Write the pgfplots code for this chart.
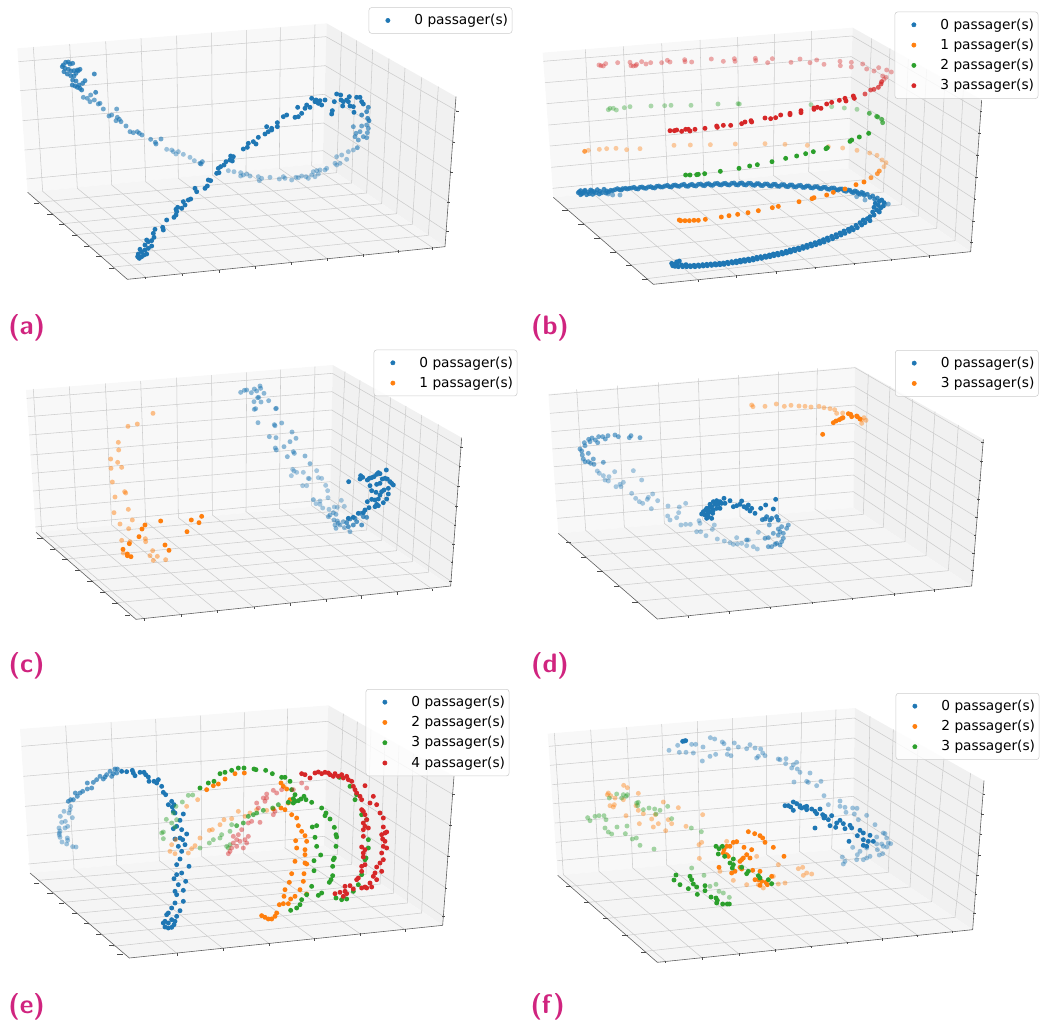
\documentclass[border=0pt]{standalone}
\usepackage{fontspec}
\setmainfont{DejaVu Sans}
\usepackage{pgfplots}
\pgfplotsset{compat=1.18}
\definecolor{cB}{HTML}{1F77B4}
\definecolor{cO}{HTML}{FF7F0E}
\definecolor{cG}{HTML}{2CA02C}
\definecolor{cR}{HTML}{D62728}
\definecolor{lab}{HTML}{D0247F}
\pgfdeclareplotmark{dot}{\pgfpathcircle{\pgfpointorigin}{\pgfplotmarksize}\pgfusepathqfill}
\pgfplotsset{
 panel/.style={scale only axis,width=390pt,height=255pt,xmin=0,xmax=1560,ymin=0,ymax=1020,
  y dir=reverse,hide axis,clip=false,anchor=north west,
  legend style={draw=black!20,fill=white,fill opacity=.8,text opacity=1,rounded corners=2pt,
   font=\fontsize{10.3}{12}\selectfont,cells={anchor=west},anchor=north east,
   inner xsep=1pt,inner ysep=3pt,row sep=1.9pt,line width=.4pt},
  legend image code/.code={\fill[##1,fill opacity=1] (13pt,0pt) circle (1.6pt);\path (0pt,0pt) (30.7pt,0pt);},
 },
 gl/.style={forget plot,no markers,line width=.4pt,color=black!20},
 ed/.style={forget plot,no markers,line width=.45pt,color=black!62},
}
\newcommand{\gl}[1]{\addplot[gl] coordinates {#1};}
\newcommand{\pts}[3]{\addplot[only marks,mark=dot,mark size=1.85pt,forget plot,color=#1,mark options={color=#1,opacity=#2}] coordinates {#3};}
\newcommand{\panes}[7]{%
 \addplot[forget plot,no markers,draw=none,fill=black!2.6] coordinates {#1 #2 #5 #4};
 \addplot[forget plot,no markers,draw=none,fill=black!5.5] coordinates {#2 #3 #6 #5};
 \addplot[forget plot,no markers,draw=none,fill=black!3.8] coordinates {#4 #5 #6 #7};}
\newcommand{\edges}[4]{\addplot[ed] coordinates {#1 #2 #3 #4};}
\newcommand{\tickl}[1]{\addplot[forget plot,only marks,mark=-,mark size=2.1pt,color=black!70,mark options={line width=.35pt}] coordinates {#1};}
\newcommand{\tickr}[1]{\addplot[forget plot,only marks,mark=-,mark size=.9pt,color=black!70,mark options={line width=.35pt}] coordinates {#1};}
\newcommand{\tickb}[1]{\addplot[forget plot,only marks,mark=|,mark size=.9pt,color=black!70,mark options={line width=.35pt}] coordinates {#1};}
\newcommand{\leg}[1]{\addlegendimage{color=#1}}
\newcommand{\plab}[3]{\node[text=lab,font=\fontsize{20}{24}\selectfont\sffamily\bfseries] at (axis cs:#1,#2) {(#3)};}
\begin{document}
\begin{tikzpicture}
\path (0pt,0pt) rectangle (780pt,-767.25pt);
% ---------------- (a)
\begin{axis}[panel,at={(0pt,0pt)},legend entries={0 passager(s)},legend style={at={(1537/1560,{1-22/1020})}}]
\leg{cB}
\panes{(52,145)}{(980,70)}{(1368,290)}{(83,577)}{(968,490)}{(1335,740)}{(382,838)}
\gl{(100,141) (128,574) (437,832)}\gl{(209,132) (232,565) (547,823)}\gl{(317,124) (335,555) (657,812)}
\gl{(423,115) (437,545) (765,800)}\gl{(530,107) (535,535) (875,788)}\gl{(635,98) (637,525) (983,777)}
\gl{(739,90) (738,515) (1090,765)}\gl{(841,82) (838,505) (1195,753)}\gl{(945,74) (935,497) (1298,743)}
\gl{(55,185) (978,110) (1372,333)}\gl{(60,272) (976,197) (1362,427)}\gl{(68,362) (973,283) (1355,517)}
\gl{(74,450) (971,369) (1346,606)}\gl{(80,537) (969,452) (1342,695)}
\gl{(1025,96) (1010,518) (115,607)}\gl{(1070,121) (1055,549) (153,640)}\gl{(1118,148) (1100,579) (190,671)}
\gl{(1167,176) (1145,611) (228,704)}\gl{(1215,204) (1190,641) (265,736)}\gl{(1265,232) (1237,673) (302,768)}
\gl{(1315,260) (1285,706) (340,801)}
\edges{(83,577)}{(382,838)}{(1335,740)}{(1368,290)}
\tickl{(110,610)(150,642)(185,673)(223,705)(260,738)(297,770)(335,805)}
\tickr{(1372,333)(1362,427)(1355,517)(1346,606)(1342,695)}
\tickb{(437,834)(547,825)(657,814)(765,802)(875,790)(983,779)(1090,767)(1195,755)(1298,745)}
\pts{cB}{.42}{(500,448)(515,450)(520,455)(528,462)(535,455)(550,463)(570,472)(583,482)(685,512)(702,515)(722,518)(730,525)(722,528)(740,522)(750,528)(775,530)(778,542)(785,535)(810,532)(838,537)(850,530)(855,535)(875,540)(888,532)(895,533)(905,528)(918,530)(925,535)(935,525)(940,515)(950,512)(960,510)(945,530)(955,522)(975,510)(980,505)(1005,490)(1010,495)(1020,490)(1010,470)(1025,465)(1040,478)(1045,455)(1060,450)}
\pts{cB}{.62}{(250,292)(262,295)(272,285)(270,305)(283,300)(295,312)(300,310)(310,327)(350,327)(327,348)(335,345)(352,352)(348,362)(358,358)(378,378)(363,365)(390,395)(400,398)(412,395)(418,400)(426,405)(452,418)(466,427)(483,417)(468,432)(600,490)(607,485)(603,492)(1072,443)(1060,380)(1085,378)(1068,400)(1080,395)(1065,410)(1075,420)(1090,410)(1100,413)(1102,398)(1105,385)(1100,375)}
\pts{cB}{.8}{(190,195)(197,187)(205,186)(210,192)(218,190)(187,200)(195,205)(205,208)(213,213)(222,212)(232,210)(240,208)(192,215)(202,222)(212,227)(222,228)(235,212)(228,220)(283,222)(218,240)(228,243)(255,242)(248,250)(217,255)(225,258)(232,262)(240,265)(245,270)(237,255)(287,277)(1107,362)(1085,345)(1103,355)(1105,322)(1100,335)}
\pts{cB}{1}{(413,770)(418,775)(425,770)(432,765)(440,762)(415,762)(425,755)(435,750)(445,745)(455,738)(420,748)(435,735)(445,725)(455,722)(462,712)(460,700)(465,688)(440,720)(490,690)(488,682)(500,660)(522,652)(528,645)(530,635)(533,622)(528,628)(545,625)(555,615)(550,605)(565,600)(572,597)(585,565)(590,575)(615,565)(622,558)(625,540)(632,542)(650,520)(657,518)(655,505)(662,500)(672,495)(678,485)(690,480)(692,468)(700,470)(697,483)(730,447)(742,442)(745,430)(760,425)(768,432)(775,412)(795,402)(805,395)(815,390)(800,380)(815,385)(832,380)(832,368)(850,350)(860,345)(885,352)(895,350)(905,340)(915,325)(920,315)(930,322)(893,322)(935,295)(945,305)(960,302)(965,315)(975,300)(955,310)(948,300)(1003,305)(1010,282)(1022,285)(997,332)(995,342)(1030,305)(1040,300)(1048,290)(1028,318)(1050,318)(1070,292)(1080,292)(1085,305)(1060,320)(1090,312)(1062,337)(1023,300)(1045,305)}
\plab{80}{982}{a}
\end{axis}
% ---------------- (b)
\begin{axis}[panel,at={(390pt,0pt)},legend entries={0 passager(s),1 passager(s),2 passager(s),3 passager(s)},legend style={at={(1555/1560,{1-35/1020})}}]
\leg{cB}\leg{cO}\leg{cG}\leg{cR}
\panes{(68,158)}{(998,83)}{(1385,300)}{(100,592)}{(985,505)}{(1352,755)}{(400,853)}
\gl{(196,148) (218,580) (535,841)}\gl{(310,139) (330,569) (650,828)}\gl{(425,130) (443,558) (768,815)}
\gl{(540,120) (552,547) (885,802)}\gl{(653,111) (657,537) (1002,790)}\gl{(764,102) (760,526) (1115,778)}\gl{(875,93) (866,515) (1228,767)}
\gl{(70,184) (996,108) (1383,333)}\gl{(75,248) (994,170) (1378,399)}\gl{(80,311) (992,231) (1373,466)}
\gl{(86,375) (990,293) (1369,532)}\gl{(90,438) (988,355) (1365,598)}\gl{(94,502) (987,416) (1360,664)}\gl{(98,565) (986,478) (1355,728)}
\gl{(1055,115) (1035,539) (140,627)}\gl{(1110,146) (1090,576) (188,670)}\gl{(1165,177) (1145,614) (236,712)}
\gl{(1220,208) (1195,648) (284,754)}\gl{(1275,239) (1250,685) (332,795)}\gl{(1330,269) (1305,722) (380,836)}
\edges{(100,592)}{(400,853)}{(1352,755)}{(1385,300)}
\tickl{(135,630)(183,672)(231,714)(279,756)(327,797)(375,838)}
\tickr{(1383,333)(1378,399)(1373,466)(1369,532)(1365,598)(1360,664)(1355,728)}
\tickb{(535,843)(650,830)(768,817)(885,804)(1002,792)(1115,780)(1228,769)}
\pts{cB}{.55}{(278,585)(300,585)(265,582)(1095,612)(1105,612)(1035,600)(1010,590)}
\pts{cB}{.85}{(175,578)(182,572)(182,584)(190,578)(195,571)(200,584)(205,576)(212,570)(218,583)(222,575)(232,569)(238,582)(240,574)(252,568)(258,579)(260,573)(272,571)(285,569)(298,569)(308,566)(322,567)(335,564)(348,566)(360,562)(372,564)(385,561)(398,563)(410,559)(422,561)(435,558)(448,560)(460,556)(472,558)(485,555)(498,558)(510,555)(522,557)(535,553)(548,556)(560,552)(572,555)(585,551)(598,554)(610,551)(622,554)(635,550)(648,554)(660,550)(672,554)(685,550)(698,555)(710,551)(722,556)(735,552)(748,557)(760,553)(772,558)(785,554)(798,559)(810,555)(822,560)(835,557)(848,562)(860,558)(872,563)(885,560)(898,565)(910,562)(922,567)(935,564)(948,569)(960,567)(972,572)(985,570)(995,576)(1005,573)(1015,580)(1025,577)(1033,586)(1042,583)(1050,592)(1058,588)(1064,598)(1072,594)(178,575)(186,581)(194,574)(208,581)(216,573)(228,578)(246,578)(266,576)(278,572)(292,566)(304,570)(316,565)(328,565)(342,562)(354,567)(366,561)(378,565)(392,560)(404,564)(416,558)(428,561)(442,556)(454,561)(466,555)(478,559)(492,553)(504,559)(516,553)(528,558)(542,552)(554,557)(566,551)(578,556)(592,550)(604,555)(616,550)(628,555)(642,549)(654,555)(666,549)(678,555)(692,550)(704,556)(716,551)(728,557)(742,552)(754,558)(766,553)(778,559)(792,554)(804,560)(816,555)(828,561)(842,556)(854,562)(866,558)(878,564)(892,560)(904,566)(916,562)(928,568)(942,564)(954,570)(966,567)(978,574)(990,571)(1000,578)(1010,575)(1020,583)(1030,580)}
\pts{cB}{1}{(1085,600)(1092,608)(1090,618)(1078,604)(1066,610)(1075,616)(1082,624)(1062,622)(1070,630)(1078,636)(1058,636)(1062,645)(1050,650)(1042,656)(1050,662)(1030,660)(1035,668)(1020,668)(1025,675)(1008,676)(1012,683)(995,683)(1000,689)(985,688)(988,694)(972,693)(975,700)(960,699)(963,705)(948,704)(950,711)(935,709)(938,716)(922,714)(925,721)(910,719)(912,726)(898,724)(900,730)(885,728)(888,734)(872,732)(875,738)(860,736)(862,742)(848,740)(850,745)(835,744)(838,749)(822,747)(825,752)(810,750)(812,756)(798,754)(800,759)(785,757)(788,762)(772,760)(775,765)(760,762)(762,767)(748,765)(750,770)(735,768)(738,772)(722,770)(725,775)(710,772)(712,777)(698,775)(700,780)(685,777)(688,782)(672,779)(675,784)(660,781)(662,786)(648,783)(650,788)(635,785)(638,789)(622,787)(625,791)(610,789)(612,793)(598,790)(600,794)(585,791)(588,795)(572,792)(575,796)(560,793)(562,797)(548,794)(550,798)(535,795)(538,799)(522,796)(525,800)(510,797)(512,800)(498,794)(500,800)(485,795)(488,800)(472,790)(475,800)(462,793)(465,799)(455,790)(458,797)(478,783)(470,786)}
\pts{cO}{.38}{(205,451)(238,448)(260,446)(288,445)(320,449)(360,446)(462,436)(511,435)(571,434)(646,432)(735,431)(795,433)(862,436)(925,440)(968,444)(1011,451)(1049,459)(1071,466)(1086,480)(1098,488)(1092,500)}
\pts{cO}{.75}{(1078,513)(1072,521)(1053,533)(194,454)}
\pts{cO}{1}{(1032,546)(1008,554)(975,567)(940,577)(920,585)(882,593)(876,596)(837,605)(775,619)(757,623)(715,632)(684,638)(653,643)(627,647)(604,651)(556,658)(535,661)(522,661)(508,662)(495,662)(478,660)(482,662)}
\pts{cG}{.38}{(265,329)(270,325)(280,325)(289,330)(313,323)(330,320)(393,318)(434,317)(453,316)(513,316)(594,312)(654,311)(658,312)(873,314)(935,320)(973,324)(1011,328)}
\pts{cG}{.75}{(1048,340)(1070,349)(1073,351)(1085,358)(1088,368)}
\pts{cG}{1}{(990,424)(995,420)(1018,411)(1046,400)(918,446)(922,443)(880,455)(857,461)(830,468)(797,475)(756,485)(712,494)(689,498)(657,505)(601,514)(554,521)(530,524)(535,523)(497,525)(510,525)}
\pts{cR}{.38}{(237,195)(243,197)(250,198)(257,191)(293,188)(330,187)(333,197)(340,198)(347,197)(350,193)(365,185)(378,192)(392,188)(425,188)(442,181)(450,186)(494,179)(495,185)(515,186)(574,177)(610,184)(643,176)(645,184)(706,175)(707,182)(743,188)(757,176)(813,187)(840,177)(870,188)(890,180)(912,193)(960,184)(961,197)(994,187)(994,201)(1028,192)(1040,207)(1062,213)(1076,203)(1100,210)(1114,216)(1088,228)(1098,232)(1092,238)}
\pts{cR}{.75}{(1085,245)(1083,252)(1075,262)(1062,268)(1052,270)(1035,282)}
\pts{cR}{1}{(450,392)(463,392)(470,390)(485,394)(497,388)(505,388)(510,393)(525,388)(555,385)(590,378)(592,382)(610,376)(632,376)(665,371)(675,366)(693,362)(695,366)(735,354)(752,356)(767,353)(782,345)(810,340)(810,344)(843,332)(843,338)(882,324)(882,328)(892,322)(903,325)(920,312)(935,307)(958,301)(975,295)(978,303)(1000,288)(1003,295)}
\plab{90}{982}{b}
\end{axis}
% ---------------- (c)
\begin{axis}[panel,at={(0pt,-258.75pt)},legend entries={0 passager(s),1 passager(s)},legend style={at={(1552/1560,{1-14/1020})}}]
\leg{cB}\leg{cO}
\panes{(78,135)}{(998,60)}{(1385,278)}{(108,562)}{(990,480)}{(1352,723)}{(408,823)}
\gl{(100,132) (125,560) (432,821)}\gl{(208,124) (232,550) (543,810)}\gl{(316,115) (335,540) (652,798)}
\gl{(422,108) (437,530) (762,787)}\gl{(530,98) (535,518) (872,776)}\gl{(635,90) (637,510) (978,765)}
\gl{(740,82) (738,500) (1085,755)}\gl{(842,74) (838,490) (1192,743)}\gl{(945,65) (935,482) (1298,733)}
\gl{(80,160) (997,85) (1385,307)}\gl{(84,215) (996,140) (1380,365)}\gl{(88,270) (995,195) (1375,425)}\gl{(92,330) (994,253) (1370,483)}
\gl{(96,385) (993,305) (1365,540)}\gl{(99,438) (992,358) (1360,597)}\gl{(103,492) (991,410) (1356,652)}\gl{(106,546) (990,463) (1352,708)}
\gl{(1035,80) (1015,498) (125,577)}\gl{(1080,106) (1055,525) (163,610)}\gl{(1125,131) (1100,555) (200,642)}\gl{(1172,157) (1145,586) (238,675)}
\gl{(1218,183) (1190,617) (275,707)}\gl{(1265,210) (1237,650) (313,740)}\gl{(1315,238) (1285,682) (350,773)}
\edges{(108,562)}{(408,823)}{(1352,723)}{(1385,278)}
\tickl{(120,580)(158,612)(195,644)(233,677)(270,709)(308,742)(345,775)(383,810)}
\tickr{(1385,307)(1380,365)(1375,425)(1370,483)(1365,540)(1360,597)(1356,652)(1352,708)}
\tickb{(432,823)(543,812)(652,800)(762,789)(872,778)(978,767)(1085,757)(1192,745)(1298,735)}
\pts{cB}{.38}{(950,377)(878,373)(882,378)(874,392)(890,382)(910,382)(925,400)(928,401)(955,398)(965,400)(908,422)(920,422)(977,421)(983,437)(984,458)(1024,466)(960,468)(948,476)(960,478)(968,489)(987,493)(1003,486)(1012,487)(1033,484)}
\pts{cB}{.5}{(722,142)(733,136)(740,135)(754,143)(763,132)(770,138)(780,123)(782,130)(792,145)(773,158)(776,157)(762,170)(783,171)(806,167)(763,193)(767,191)(827,191)(829,190)(774,233)(823,239)(825,242)(845,234)(876,261)(808,275)(828,278)(870,290)(888,280)(852,305)(826,309)(829,315)(880,320)(883,325)(862,335)(915,333)(930,356)(940,464)(1008,508)(990,510)(1000,503)(985,515)(1002,525)(1012,528)(1030,530)(1005,540)(1020,540)(1015,535)(1033,548)(1008,550)(1050,560)}
\pts{cB}{.75}{(1045,545)(1060,540)(1085,540)(1040,533)(1050,522)(1070,530)(1065,520)(1090,515)(1100,517)(1082,505)}
\pts{cB}{1}{(1046,410)(1082,392)(1080,402)(1088,397)(1102,405)(1108,400)(1115,398)(1122,395)(1130,388)(1135,383)(1140,386)(1159,375)(1147,402)(1155,400)(1162,402)(1170,410)(1175,415)(1180,420)(1110,422)(1130,418)(1140,415)(1115,437)(1128,442)(1145,440)(1152,435)(1165,430)(1165,447)(1140,450)(1115,463)(1125,465)(1135,462)(1160,462)(1102,470)(1150,473)(1130,478)(1125,485)(1135,482)(1107,488)(1095,495)(1090,503)(1075,505)(1060,517)(1045,520)}
\pts{cO}{.48}{(459,205)(412,237)(384,244)(355,292)(356,315)(332,342)(353,352)(333,370)(365,367)(337,411)(374,440)(377,444)(345,456)(385,493)(342,503)(397,525)(360,537)(386,551)(365,586)(436,581)(390,590)(437,590)(458,617)(450,632)(472,634)(460,646)(497,644)(370,624)}
\pts{cO}{1}{(435,540)(482,528)(426,552)(574,525)(605,514)(597,533)(561,560)(417,575)(388,596)(495,600)(507,616)(369,613)(382,627)(393,635)(382,632)}
\plab{80}{962}{c}
\end{axis}
% ---------------- (d)
\begin{axis}[panel,at={(390pt,-258.75pt)},legend entries={0 passager(s),3 passager(s)},legend style={at={(1556/1560,{1-15/1020})}}]
\leg{cB}\leg{cO}
\panes{(85,147)}{(1005,65)}{(1390,283)}{(115,565)}{(1000,488)}{(1355,723)}{(412,822)}
\gl{(170,133) (197,556) (505,814)}\gl{(292,122) (313,546) (627,800)}\gl{(415,112) (433,535) (752,787)}\gl{(535,100) (548,525) (877,772)}
\gl{(656,90) (660,515) (998,760)}\gl{(775,80) (775,505) (1122,746)}\gl{(892,70) (885,492) (1243,735)}
\gl{(87,150) (1005,68) (1388,292)}\gl{(90,205) (1004,125) (1385,350)}\gl{(95,260) (1003,180) (1380,407)}\gl{(98,312) (1002,235) (1375,462)}
\gl{(102,365) (1001,290) (1370,517)}\gl{(105,417) (1000,340) (1365,572)}\gl{(108,468) (1000,390) (1360,625)}\gl{(112,520) (1000,440) (1357,677)}
\gl{(1045,88) (1030,508) (150,595)}\gl{(1110,124) (1090,547) (195,634)}\gl{(1178,162) (1155,590) (245,678)}\gl{(1245,200) (1218,632) (295,721)}\gl{(1315,240) (1285,677) (350,769)}
\edges{(115,565)}{(412,822)}{(1355,723)}{(1390,283)}
\tickl{(145,592)(190,636)(240,680)(290,725)(345,772)}
\tickr{(1388,292)(1385,350)(1380,407)(1375,462)(1370,517)(1365,572)(1360,625)(1357,677)}
\tickb{(505,816)(627,802)(752,789)(877,774)(998,762)(1122,748)(1243,737)}
\pts{cB}{.38}{(232,378)(238,385)(284,380)(250,392)(340,377)(365,405)(267,395)(255,405)(265,408)(310,412)(300,418)(288,425)(303,425)(335,445)(347,460)(385,457)(398,447)(358,470)(368,475)(413,467)(382,463)(394,491)(444,483)(478,486)(497,475)(476,503)(443,513)(450,525)(470,518)(483,540)(497,538)(511,538)(537,527)(540,535)(530,560)(542,560)(558,572)(577,553)(583,540)(592,582)(613,588)(650,578)(630,593)(640,598)(652,597)(665,595)(680,602)(685,585)(700,605)(712,612)(715,562)}
\pts{cB}{.6}{(360,278)(333,272)(328,278)(295,275)(285,270)(264,272)(248,275)(256,282)(236,275)(216,279)(206,283)(210,290)(226,285)(233,293)(193,293)(195,302)(180,312)(185,318)(205,325)(187,330)(190,342)(220,342)(205,350)(195,350)(212,355)(250,352)(222,358)(745,605)(755,605)(765,598)(780,600)(785,590)(790,580)(770,595)(735,580)(745,578)(680,585)(760,565)(775,570)(780,560)(790,565)(805,540)(800,550)(785,545)(775,552)(748,540)}
\pts{cB}{.85}{(770,515)(775,525)(755,520)(740,515)(735,522)(727,524)(750,525)}
\pts{cB}{1}{(767,463)(760,492)(737,480)(722,490)(705,505)(695,490)(685,480)(690,498)(680,490)(672,485)(665,468)(660,478)(650,482)(640,485)(630,467)(612,460)(600,470)(590,467)(580,470)(570,478)(560,490)(550,500)(545,507)(555,510)(565,515)(575,520)(560,520)(570,500)(580,495)(590,490)(600,490)(575,485)(585,478)(595,478)(605,475)(615,475)(563,505)(548,505)(557,495)(568,488)(578,505)(563,512)}
\pts{cO}{.42}{(695,180)(699,185)(735,184)(769,177)(793,184)(813,181)(837,183)(855,184)(873,186)(897,184)(912,188)(930,191)(944,194)(950,205)(968,204)(1038,226)(1025,225)(1025,235)(1032,218)}
\pts{cO}{1}{(908,268)(940,233)(948,228)(958,224)(965,220)(969,218)(985,206)(992,208)(995,215)(1010,213)(1012,215)(1020,222)}
\plab{90}{962}{d}
\end{axis}
% ---------------- (e)
\begin{axis}[panel,at={(0pt,-512.25pt)},legend entries={0 passager(s),2 passager(s),3 passager(s),4 passager(s)},legend style={at={(1528/1560,{1-18/1020})}}]
\leg{cB}\leg{cO}\leg{cG}\leg{cR}
\panes{(60,138)}{(985,67)}{(1362,280)}{(90,570)}{(972,487)}{(1328,727)}{(388,825)}
\gl{(197,128) (222,557) (532,812)}\gl{(333,118) (350,545) (670,797)}\gl{(467,108) (478,533) (808,782)}\gl{(602,98) (605,520) (943,768)}\gl{(733,88) (730,510) (1080,752)}\gl{(863,77) (855,495) (1215,740)}
\gl{(65,190) (983,115) (1360,335)}\gl{(70,280) (981,203) (1352,428)}\gl{(75,370) (978,290) (1345,520)}\gl{(80,457) (975,375) (1338,615)}\gl{(85,543) (973,460) (1330,700)}
\gl{(1030,92) (1012,515) (115,592)}\gl{(1072,116) (1055,544) (155,627)}\gl{(1113,140) (1098,574) (190,658)}\gl{(1155,164) (1140,603) (228,691)}\gl{(1197,188) (1180,631) (265,724)}\gl{(1240,212) (1222,660) (300,755)}\gl{(1283,236) (1265,690) (340,790)}
\edges{(90,570)}{(388,825)}{(1328,727)}{(1362,280)}
\tickl{(110,600)(150,630)(185,660)(223,690)(260,722)(295,755)(335,787)(360,815)}
\tickr{(1360,335)(1352,428)(1345,520)(1338,615)(1330,700)}
\tickb{(532,814)(670,799)(808,784)(943,770)(1080,754)(1215,742)}
\pts{cB}{.42}{(228,492)(218,491)(200,483)(186,477)(203,472)(202,465)(180,463)(178,456)(178,450)(180,444)(177,435)(203,430)(195,435)(185,418)(196,415)(217,404)(181,400)(192,385)(207,390)(210,380)(212,370)}
\pts{cB}{.7}{(205,355)(212,350)(220,350)(232,340)(226,330)(240,330)(248,325)(262,300)(262,318)(275,315)(280,298)(290,290)(300,280)(310,288)(320,275)(315,282)(330,265)(335,280)(345,258)(352,258)(350,270)(340,272)}
\pts{cB}{1}{(365,265)(380,266)(397,262)(400,270)(405,278)(420,268)(432,268)(437,275)(445,282)(447,295)(462,295)(475,290)(470,300)(485,310)(490,328)(497,335)(505,365)(515,355)(522,365)(517,372)(520,385)(525,390)(550,393)(540,412)(530,430)(545,440)(520,437)(560,453)(525,468)(540,465)(548,470)(535,490)(555,485)(545,505)(567,550)(540,528)(530,545)(545,570)(530,575)(522,587)(557,595)(535,605)(525,625)(550,622)(530,635)(550,655)(525,660)(515,675)(505,690)(540,683)(530,700)(500,695)(495,715)(505,720)(515,710)(525,715)(490,720)(495,732)(505,735)(515,733)(522,725)}
\pts{cO}{.45}{(515,485)(510,505)(525,512)(527,470)(560,370)(593,350)(565,510)(575,497)(585,488)(600,465)(628,442)(637,440)(660,425)(672,410)(695,407)(715,385)(735,400)(750,390)(770,380)(800,382)}
\pts{cO}{1}{(620,320)(655,303)(675,288)(705,272)(733,270)(640,308)(785,698)(795,703)(805,708)(815,708)(825,700)(830,690)(838,665)(850,662)(865,662)(872,648)(885,640)(852,640)(855,620)(868,598)(875,572)(885,535)(890,495)(887,473)(915,458)(920,475)(905,445)(895,428)(890,405)(875,395)(855,380)(843,375)(820,378)(915,500)(915,515)(915,540)(920,543)(912,572)(910,595)(900,620)(920,633)(843,300)(850,310)(860,318)(870,350)(865,360)}
\pts{cG}{.45}{(499,409)(515,420)(525,432)(490,447)(485,450)(490,467)(530,410)(565,337)(578,336)(547,357)(528,370)(520,390)(680,490)(690,485)(685,495)(695,425)(690,445)(665,455)(660,465)(640,470)(628,480)(600,495)}
\pts{cG}{.75}{(770,390)(790,382)(818,375)(835,365)(760,395)(745,400)(730,420)(710,428)}
\pts{cG}{1}{(600,315)(625,300)(642,295)(660,272)(675,268)(695,262)(715,255)(732,255)(762,258)(768,260)(797,262)(817,272)(845,283)(855,283)(870,295)(875,320)(885,335)(912,340)(918,350)(935,358)(965,375)(978,390)(975,398)(990,408)(1003,433)(1008,455)(1010,462)(1008,490)(1003,525)(1000,530)(998,550)(998,578)(993,590)(988,598)(965,630)(955,637)(920,635)(905,650)(900,665)(890,675)(872,682)(950,490)(945,463)(937,432)(950,428)(962,516)(942,533)(942,563)(935,610)(885,355)(880,360)(865,358)(880,347)(895,353)(903,348)(1018,283)(1050,310)(1070,335)(1100,410)(1105,470)(1105,495)(1098,525)(1095,530)(1085,575)(1075,605)(1060,625)(1040,648)(1025,650)(1008,645)(1065,350)(1085,395)}
\pts{cR}{.45}{(685,512)(695,495)(700,480)(710,470)(715,455)(725,440)(745,460)(740,480)(730,495)(710,490)(745,420)(755,415)(780,418)(820,395)(825,385)(770,360)(775,375)(790,345)(800,333)(820,322)(830,330)(845,320)(905,300)(920,315)(880,320)(700,460)(690,505)(720,475)(735,470)(795,355)(800,345)}
\pts{cR}{1}{(905,272)(915,275)(930,285)(945,270)(955,267)(965,272)(975,268)(985,270)(1000,280)(1015,280)(1030,285)(1045,290)(1055,295)(1060,310)(1070,330)(1085,350)(1095,308)(1120,340)(1110,360)(1130,365)(1140,390)(1150,405)(1090,385)(1100,410)(1090,420)(1105,435)(1150,432)(1160,447)(1145,455)(1155,450)(1148,468)(1090,440)(1090,460)(1150,490)(1160,495)(1085,492)(1095,500)(1145,510)(1090,522)(1150,530)(1095,545)(1130,552)(1145,565)(1085,565)(1120,580)(1130,590)(1075,585)(1070,590)(1110,600)(1100,615)(1085,615)(1035,610)(1050,608)(1060,618)(1035,625)(1020,628)(1005,632)(1040,632)(1030,640)(1085,380)(990,275)(1005,272)(1025,275)(1040,280)(1065,320)(1080,340)(1095,395)(1095,430)(1155,475)(1090,510)(1085,550)(1140,540)(1125,570)(1115,612)(1095,612)}
\plab{80}{972}{e}
\end{axis}
% ---------------- (f)
\begin{axis}[panel,at={(390pt,-512.25pt)},legend entries={0 passager(s),2 passager(s),3 passager(s)},legend style={at={(1558/1560,{1-30/1020})}}]
\leg{cB}\leg{cO}\leg{cG}
\panes{(83,152)}{(1005,75)}{(1392,293)}{(113,577)}{(997,495)}{(1358,740)}{(412,838)}
\gl{(103,150) (130,575) (437,835)}\gl{(212,140) (237,565) (547,825)}\gl{(320,132) (338,555) (657,813)}\gl{(425,123) (440,545) (765,800)}\gl{(532,114) (540,533) (873,790)}\gl{(637,105) (640,525) (982,778)}\gl{(740,97) (740,515) (1088,768)}\gl{(845,88) (838,505) (1193,757)}\gl{(948,80) (935,497) (1298,745)}
\gl{(87,190) (1003,105) (1392,335)}\gl{(90,247) (1002,165) (1388,395)}\gl{(97,305) (1001,225) (1383,455)}\gl{(100,362) (1000,285) (1378,517)}\gl{(105,420) (999,340) (1373,577)}\gl{(108,478) (998,395) (1368,633)}\gl{(112,533) (997,450) (1364,690)}
\gl{(1050,100) (1040,524) (150,610)}\gl{(1120,139) (1105,568) (205,658)}\gl{(1195,181) (1170,612) (262,706)}\gl{(1272,225) (1235,656) (320,757)}\gl{(1352,270) (1305,703) (375,805)}
\edges{(113,577)}{(412,838)}{(1358,740)}{(1392,293)}
\tickl{(145,610)(200,658)(257,706)(315,757)(370,808)}
\tickr{(1392,335)(1388,395)(1383,455)(1378,517)(1373,577)(1368,633)(1364,690)}
\tickb{(437,837)(547,827)(657,815)(765,802)(873,792)(982,780)(1088,770)(1193,759)(1298,747)}
\pts{cB}{.42}{(447,202)(473,187)(478,208)(498,208)(520,210)(515,184)(527,184)(549,192)(547,234)(571,164)(584,168)(570,220)(587,214)(607,177)(612,182)(625,198)(622,214)(633,218)(643,180)(655,192)(680,197)(690,185)(705,195)(710,225)(715,220)(722,198)(728,210)(735,218)(775,228)(780,230)(798,227)(797,242)(820,245)(830,238)(815,255)(832,258)(840,268)(870,270)(822,297)(860,295)(865,298)(890,308)(903,295)(912,338)(925,365)(960,354)(960,370)(975,373)(978,388)(998,375)(1011,376)(1003,393)(1015,410)(1040,397)(1065,425)(1070,462)(1090,450)(1095,452)(1100,465)(1105,480)(1112,482)(1100,492)(1090,490)(1070,483)(1085,483)(1072,500)(1088,512)(1078,516)(1050,520)(1040,525)(1030,530)(1010,530)(1012,515)(1020,505)(998,493)(967,522)(975,535)(970,543)(1040,495)}
\pts{cB}{1}{(488,175)(493,174)(497,173)(795,368)(805,368)(812,372)(820,357)(830,362)(840,368)(845,375)(855,372)(860,380)(875,378)(885,385)(900,378)(908,395)(915,400)(925,410)(935,398)(950,420)(960,412)(970,422)(990,427)(995,435)(1020,442)(1030,450)(1012,458)(1050,457)(1060,475)(1045,475)(1030,470)(1040,490)(987,475)(1030,487)(885,435)(930,428)(947,433)(975,437)(820,382)(840,372)(860,370)(890,392)(912,405)}
\pts{cO}{.42}{(311,307)(322,314)(355,331)(265,330)(262,335)(272,338)(285,345)(310,350)(270,368)(280,372)(283,365)(348,368)(430,357)(475,374)(355,382)(370,392)(395,408)(406,395)(318,398)(358,422)(400,432)(415,422)(445,410)(455,422)(437,443)(498,430)(548,395)(545,478)(537,485)(538,526)(600,565)(640,592)(680,605)(710,520)(775,545)(835,557)(848,553)(850,577)(860,570)(875,573)(795,600)(775,603)(760,580)(730,615)(715,605)(620,475)}
\pts{cO}{1}{(685,446)(704,452)(720,458)(728,465)(735,478)(760,493)(792,520)(672,493)(695,500)(640,478)(650,476)(620,490)(630,490)(612,500)(610,510)(620,515)(625,520)(680,515)(670,525)(690,525)(665,530)(660,535)(597,553)(635,570)(645,565)(665,558)(698,562)(720,565)(755,580)(705,590)(715,590)(725,595)(738,598)(742,605)(720,607)(660,553)}
\pts{cG}{.42}{(203,404)(210,413)(225,400)(237,398)(252,398)(258,410)(255,435)(265,447)(275,453)(291,432)(321,429)(316,452)(337,468)(349,465)(360,487)(402,498)(370,380)(387,375)(404,378)(420,382)(443,370)(355,358)(353,368)(455,407)(514,435)(544,446)(515,555)(552,577)(570,610)(588,604)(597,625)(628,643)(610,630)(350,360)(408,393)(268,345)(290,333)(310,335)(322,335)(318,340)(305,345)}
\pts{cG}{1}{(588,490)(597,497)(607,490)(595,513)(614,520)(640,528)(630,540)(640,545)(637,555)(665,553)(685,565)(680,572)(715,578)(720,585)(745,590)(755,602)(468,576)(462,591)(480,605)(510,580)(515,590)(520,603)(505,617)(530,612)(532,634)(555,608)(555,623)(573,642)(588,645)(590,660)(608,663)(622,663)(628,663)(592,652)}
\plab{83}{972}{f}
\end{axis}
\end{tikzpicture}
\end{document}
